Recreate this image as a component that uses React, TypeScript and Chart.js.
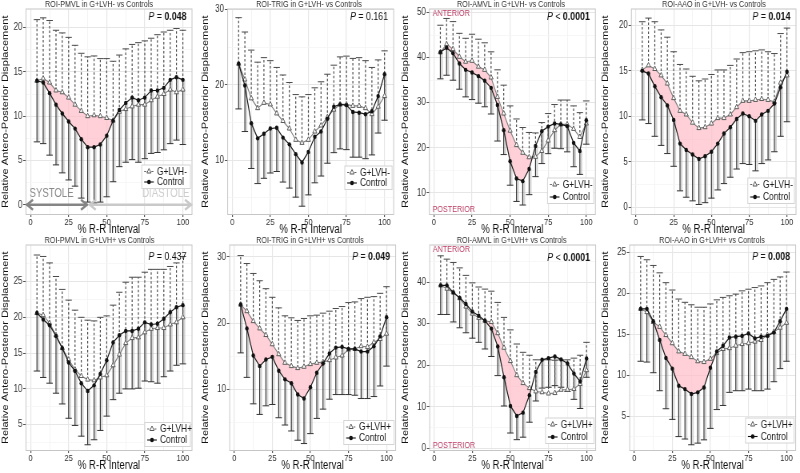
import React, { useEffect, useRef } from "react";
import { Chart, registerables } from "chart.js";

Chart.register(...registerables);

const FONT = "'Liberation Sans', Arial, Helvetica, sans-serif";
Chart.defaults.font.family = FONT;

// The reference figure is squeezed horizontally: draw wider, show at 200 px.
const CANVAS_W = 250;
const SHOW_W = 200;
const PLOT_W = 207.5;
const PLOT_TOP = 9;
const PLOT_BOTTOM = 214.5;
const PINK = "rgba(255, 190, 200, 0.72)";

// ---------- data ----------
const rrInterval = [4.2, 8.3, 12.5, 16.7, 20.8, 25, 29.2, 33.3, 37.5, 41.7, 45.8, 50, 54.2, 58.3, 62.5, 66.7, 70.8, 75, 79.2, 83.3, 87.5, 91.7, 95.8, 100];
const xTickLabels = [0, 25, 50, 75, 100];

// ROI-PMVL, G+LVH-
const pmvlNegG = [14.0, 14.25, 13.8, 12.9, 12.7, 12.1, 11.3, 10.6, 10.0, 10.1, 10.0, 9.8, 9.5, 10.5, 10.8, 11.1, 11.3, 11.3, 11.8, 12.2, 12.5, 13.0, 12.7, 13.0];
const pmvlNegGUp = [20.9, 21.1, 20.8, 19.7, 19.4, 18.9, 18.0, 17.1, 16.7, 16.8, 16.5, 16.5, 16.2, 16.9, 17.6, 18.1, 18.3, 18.5, 18.8, 19.2, 19.5, 19.7, 19.9, 19.7];
const pmvlNegC = [14.0, 13.8, 12.6, 11.3, 10.3, 9.4, 8.6, 7.4, 6.5, 6.5, 6.8, 7.8, 9.5, 10.7, 11.5, 12.1, 11.8, 12.1, 12.9, 12.9, 13.2, 14.1, 14.4, 14.1];
const pmvlNegCLow = [7.1, 6.9, 5.6, 4.5, 3.6, 2.8, 2.1, 0.75, 0.3, 0.2, 0.3, 0.9, 2.6, 4.3, 4.8, 5.1, 4.8, 5.2, 5.8, 5.9, 6.2, 6.9, 7.3, 6.8];
const yTicksPmvlNeg = [0, 5, 10, 15, 20];

// ROI-TRIG, G+LVH-
const trigNegG = [22.8, 20.7, 18.2, 16.9, 17.6, 17.4, 16.2, 15.2, 14.2, 12.7, 12.3, 12.7, 13.8, 14.6, 15.7, 16.7, 17.4, 17.4, 17.2, 17.2, 16.9, 16.1, 17.1, 18.5];
const trigNegGUp = [28.9, 27.0, 24.6, 23.0, 23.6, 23.2, 22.3, 21.3, 20.3, 18.7, 18.4, 18.7, 19.6, 20.4, 21.4, 22.6, 23.7, 23.8, 23.5, 23.6, 23.2, 22.3, 23.3, 24.5];
const trigNegC = [22.8, 19.9, 14.9, 12.9, 13.5, 14.2, 14.3, 13.0, 12.1, 10.8, 9.7, 11.1, 13.1, 13.8, 15.5, 17.1, 17.4, 17.3, 16.4, 16.3, 16.1, 16.5, 18.5, 21.4];
const trigNegCLow = [16.8, 13.8, 8.9, 6.9, 7.6, 8.3, 8.5, 7.1, 6.3, 5.1, 3.9, 5.4, 7.0, 7.9, 9.6, 11.0, 11.5, 11.4, 10.4, 10.4, 10.2, 10.7, 13.6, 15.3];
const yTicksTrigNeg = [10, 20, 30];

// ROI-AMVL, G+LVH-
const amvlNegG = [41.2, 43.0, 41.9, 40.2, 39.1, 39.3, 38.0, 37.3, 35.6, 31.3, 27.6, 23.8, 20.6, 18.9, 17.9, 18.0, 19.3, 21.6, 23.9, 25.2, 25.2, 24.2, 22.4, 25.4];
const amvlNegGUp = [47.2, 48.7, 48.0, 45.4, 44.3, 45.2, 44.1, 43.3, 41.3, 37.3, 33.9, 29.3, 26.4, 24.5, 23.4, 23.3, 25.6, 27.6, 29.6, 30.6, 30.6, 29.3, 27.8, 30.4];
const amvlNegC = [41.2, 42.2, 41.0, 38.7, 37.3, 36.7, 35.9, 34.9, 33.3, 29.5, 23.9, 17.0, 13.2, 12.6, 15.3, 20.4, 23.7, 24.7, 25.4, 25.2, 24.8, 21.1, 19.3, 26.1];
const amvlNegCLow = [35.3, 36.1, 35.0, 33.0, 31.3, 30.7, 29.9, 29.1, 27.5, 21.5, 18.5, 11.7, 8.1, 7.3, 9.6, 13.6, 16.5, 18.7, 19.9, 19.8, 19.1, 15.8, 14.1, 20.8];
const yTicksAmvlNeg = [10, 20, 30, 40, 50];

// ROI-AAO, G+LVH-
const aaoNegG = [15.1, 15.6, 15.2, 14.5, 13.6, 12.0, 10.6, 10.2, 9.3, 8.7, 8.8, 9.2, 9.8, 9.8, 10.2, 11.0, 11.7, 11.7, 11.8, 11.9, 11.8, 11.6, 13.7, 14.5];
const aaoNegGUp = [20.4, 20.8, 20.4, 19.5, 18.7, 17.1, 15.7, 15.2, 14.4, 13.9, 14.1, 14.6, 15.1, 15.1, 15.6, 16.3, 17.0, 17.1, 17.2, 17.3, 17.1, 16.9, 19.1, 19.7];
const aaoNegC = [15.0, 14.7, 13.3, 12.1, 11.2, 9.6, 7.0, 6.3, 5.8, 5.3, 5.6, 6.1, 7.0, 8.1, 8.8, 9.7, 10.3, 10.0, 9.5, 10.2, 10.6, 11.4, 13.2, 14.9];
const aaoNegCLow = [9.6, 9.2, 7.8, 6.8, 5.9, 4.5, 1.8, 1.1, 0.7, 0.3, 0.5, 1.0, 1.9, 2.6, 3.3, 4.2, 4.8, 4.7, 4.0, 4.8, 5.2, 6.1, 7.8, 9.4];
const yTicksAaoNeg = [0, 5, 10, 15, 20];

// ROI-PMVL, G+LVH+
const pmvlPosG = [20.6, 20.3, 19.2, 17.5, 15.7, 14.1, 12.7, 11.8, 11.3, 11.2, 11.6, 11.9, 13.3, 14.8, 16.4, 17.1, 17.2, 17.9, 18.4, 18.5, 18.5, 19.0, 19.3, 20.0];
const pmvlPosGUp = [28.7, 28.5, 27.6, 25.7, 23.9, 22.4, 21.0, 20.0, 19.6, 19.5, 20.0, 20.2, 21.7, 23.5, 24.9, 25.6, 25.6, 26.3, 26.7, 26.7, 26.7, 27.1, 27.6, 28.5];
const pmvlPosC = [20.6, 19.7, 18.9, 17.4, 15.7, 13.7, 12.5, 10.8, 9.7, 10.5, 12.1, 14.0, 16.5, 17.5, 18.1, 18.1, 18.4, 19.3, 19.0, 19.1, 19.8, 20.7, 21.4, 21.7];
const pmvlPosCLow = [12.5, 11.6, 10.8, 9.4, 7.9, 5.9, 4.9, 3.4, 2.2, 2.9, 4.2, 6.2, 8.5, 9.4, 10.0, 10.0, 10.1, 11.1, 11.0, 10.8, 11.7, 12.5, 13.3, 13.5];
const yTicksPmvlPos = [5, 10, 15, 20, 25];

// ROI-TRIG, G+LVH+
const trigPosG = [22.8, 21.8, 20.3, 19.2, 18.2, 16.8, 15.3, 14.0, 13.5, 13.2, 13.4, 13.8, 14.0, 14.1, 14.4, 14.8, 15.1, 16.0, 16.1, 16.5, 16.4, 17.1, 17.6, 18.4];
const trigPosGUp = [30.2, 29.0, 27.5, 26.4, 25.2, 23.9, 22.3, 21.1, 20.8, 20.4, 20.7, 21.1, 21.2, 21.5, 21.8, 22.2, 22.5, 23.1, 23.2, 23.7, 23.9, 24.0, 24.5, 25.5];
const trigPosC = [22.8, 19.2, 15.1, 13.5, 14.5, 14.9, 12.8, 11.5, 10.9, 9.2, 8.6, 10.3, 12.5, 13.9, 15.4, 16.3, 16.4, 16.1, 16.1, 15.7, 15.7, 16.5, 18.0, 20.9];
const trigPosCLow = [15.5, 11.8, 7.8, 6.2, 7.5, 7.7, 5.7, 4.6, 3.7, 2.3, 1.8, 3.3, 5.6, 7.0, 8.5, 9.2, 9.2, 9.2, 9.1, 8.6, 8.6, 8.9, 10.5, 13.5];
const yTicksTrigPos = [10, 20, 30];

// ROI-AMVL, G+LVH+
const amvlPosG = [39.2, 38.4, 37.5, 36.1, 34.1, 32.4, 31.4, 30.7, 30.4, 27.7, 24.2, 21.0, 17.6, 15.7, 14.5, 13.7, 13.5, 13.2, 13.3, 14.1, 14.1, 14.3, 15.5, 18.8];
const amvlPosGUp = [46.3, 45.5, 44.7, 43.4, 41.6, 39.8, 38.8, 38.3, 37.8, 35.1, 31.5, 28.5, 25.1, 23.1, 22.4, 21.3, 21.3, 21.3, 21.2, 21.3, 21.3, 21.7, 22.4, 25.5];
const amvlPosC = [39.2, 39.2, 37.5, 36.2, 34.7, 32.9, 31.9, 30.7, 28.8, 24.5, 17.1, 10.2, 7.8, 8.6, 12.8, 18.4, 21.3, 21.7, 22.1, 21.4, 20.4, 18.0, 16.1, 21.6];
const amvlPosCLow = [32.2, 32.2, 30.4, 29.0, 27.8, 26.5, 25.5, 23.9, 22.1, 17.5, 10.2, 3.7, 2.1, 2.7, 6.3, 11.4, 14.5, 14.7, 15.1, 14.7, 13.7, 11.8, 9.6, 17.1];
const yTicksAmvlPos = [0, 10, 20, 30, 40];

// ROI-AAO, G+LVH+
const aaoPosG = [18.1, 17.7, 16.5, 15.9, 14.9, 13.9, 12.9, 12.6, 12.2, 11.7, 11.6, 12.0, 12.7, 13.2, 13.3, 13.6, 13.8, 13.9, 14.1, 14.3, 14.9, 15.3, 15.8, 16.4];
const aaoPosGUp = [24.5, 24.1, 23.4, 22.5, 21.3, 20.4, 19.3, 18.9, 18.6, 18.3, 18.3, 18.7, 19.2, 19.5, 19.7, 19.9, 20.3, 20.5, 20.7, 20.9, 21.3, 21.7, 22.0, 22.6];
const aaoPosC = [18.1, 18.1, 16.6, 14.3, 12.1, 10.8, 8.7, 8.3, 7.7, 7.9, 8.5, 10.9, 12.9, 13.6, 14.6, 14.7, 14.8, 15.1, 14.5, 14.7, 14.8, 15.2, 16.6, 18.1];
const aaoPosCLow = [11.7, 11.6, 10.3, 8.1, 5.9, 4.6, 2.5, 2.2, 1.5, 1.7, 2.1, 3.5, 5.8, 6.3, 7.9, 8.1, 8.1, 8.3, 8.1, 8.1, 8.3, 9.2, 10.8, 11.7];
const yTicksAaoPos = [5, 10, 15, 20, 25];

// Cardiac-phase annotation (panel 1), in data units
const systoleSpan = [-2.6, 37.3];
const diastoleSpan = [38.6, 105.6];
const systoleLabelAt = [13.8, 1.2];
const diastoleLabelAt = [88.8, 1.2];

type Panel = {
  title: string; group: string;
  g: number[]; gUp: number[]; c: number[]; cLow: number[];
  yMin: number; yMax: number; yTicks: number[];
  pOp: string; pVal: string; pBold: boolean;
  sig: number[] | null;
  phases?: boolean; orient?: boolean;
  left: number; titleX: number; legendX: number; legendY: number; legendGap: number; pY: number;
};

const panels: Panel[] = [
  { title: "ROI-PMVL in G+LVH- vs Controls", group: "G+LVH-", g: pmvlNegG, gUp: pmvlNegGUp, c: pmvlNegC, cLow: pmvlNegCLow,
    yMin: -1.1, yMax: 22.1, yTicks: yTicksPmvlNeg, pOp: "=", pVal: "0.048", pBold: true, sig: [1, 12], phases: true,
    left: 32.5, titleX: 123.75, legendX: 196.25, legendY: 171.5, legendGap: 10.5, pY: 16.7 },
  { title: "ROI-TRIG in G+LVH- vs Controls", group: "G+LVH-", g: trigNegG, gUp: trigNegGUp, c: trigNegC, cLow: trigNegCLow,
    yMin: 2.8, yMax: 30.05, yTicks: yTicksTrigNeg, pOp: "=", pVal: "0.161", pBold: false, sig: null,
    left: 34.6, titleX: 136.25, legendX: 200, legendY: 172.5, legendGap: 10.5, pY: 17.3 },
  { title: "ROI-AMVL in G+LVH- vs Controls", group: "G+LVH-", g: amvlNegG, gUp: amvlNegGUp, c: amvlNegC, cLow: amvlNegCLow,
    yMin: 5.2, yMax: 50.8, yTicks: yTicksAmvlNeg, pOp: "<", pVal: "0.0001", pBold: true, sig: [0, 15], orient: true,
    left: 36.75, titleX: 138.75, legendX: 203.4, legendY: 184.5, legendGap: 12.5, pY: 16.7 },
  { title: "ROI-AAO in G+LVH- vs Controls", group: "G+LVH-", g: aaoNegG, gUp: aaoNegGUp, c: aaoNegC, cLow: aaoNegCLow,
    yMin: -0.8, yMax: 21.8, yTicks: yTicksAaoNeg, pOp: "=", pVal: "0.014", pBold: true, sig: [0, 23],
    left: 39.25, titleX: 142.5, legendX: 203.75, legendY: 184.5, legendGap: 12.5, pY: 17.3 },
  { title: "ROI-PMVL in G+LVH+ vs Controls", group: "G+LVH+", g: pmvlPosG, gUp: pmvlPosGUp, c: pmvlPosC, cLow: pmvlPosCLow,
    yMin: 1.4, yMax: 30.1, yTicks: yTicksPmvlPos, pOp: "=", pVal: "0.437", pBold: false, sig: null,
    left: 32.5, titleX: 124.4, legendX: 200, legendY: 193, legendGap: 11, pY: 20.7 },
  { title: "ROI-TRIG in G+LVH+ vs Controls", group: "G+LVH+", g: trigPosG, gUp: trigPosGUp, c: trigPosC, cLow: trigPosCLow,
    yMin: 0.75, yMax: 31.8, yTicks: yTicksTrigPos, pOp: "=", pVal: "0.049", pBold: true, sig: [0, 13],
    left: 37.1, titleX: 137.5, legendX: 198.75, legendY: 191, legendGap: 11, pY: 20.7 },
  { title: "ROI-AMVL in G+LVH+ vs Controls", group: "G+LVH+", g: amvlPosG, gUp: amvlPosGUp, c: amvlPosC, cLow: amvlPosCLow,
    yMin: -0.5, yMax: 48.9, yTicks: yTicksAmvlPos, pOp: "<", pVal: "0.0001", pBold: true, sig: [7, 15], orient: true,
    left: 37.1, titleX: 139.6, legendX: 200.9, legendY: 188.5, legendGap: 12.5, pY: 21.7 },
  { title: "ROI-AAO in G+LVH+ vs Controls", group: "G+LVH+", g: aaoPosG, gUp: aaoPosGUp, c: aaoPosC, cLow: aaoPosCLow,
    yMin: 0.8, yMax: 25.9, yTicks: yTicksAaoPos, pOp: "=", pVal: "0.008", pBold: true, sig: [0, 13],
    left: 37.1, titleX: 140, legendX: 200.9, legendY: 188.5, legendGap: 12, pY: 20.7 },
];

function withMinor(major: number[], min: number, max: number) {
  const step = major[1] - major[0];
  const all: number[] = [major[0] - step / 2];
  major.forEach((v) => {
    all.push(v);
    all.push(v + step / 2);
  });
  return all.filter((v) => v >= min - 1e-9 && v <= max + 1e-9);
}

function seg(ctx: CanvasRenderingContext2D, x0: number, y0: number, x1: number, y1: number) {
  ctx.beginPath();
  ctx.moveTo(x0, y0);
  ctx.lineTo(x1, y1);
  ctx.stroke();
}

function triangle(ctx: CanvasRenderingContext2D, x: number, y: number, r: number) {
  ctx.beginPath();
  ctx.moveTo(x, y - r);
  ctx.lineTo(x + r * 0.866, y + r * 0.5);
  ctx.lineTo(x - r * 0.866, y + r * 0.5);
  ctx.closePath();
}

function doubleArrow(ctx: CanvasRenderingContext2D, x0: number, x1: number, y: number, color: string) {
  ctx.strokeStyle = color;
  ctx.lineWidth = 2.6;
  ctx.lineCap = "butt";
  seg(ctx, x0, y, x1, y);
  ctx.beginPath();
  ctx.moveTo(x0 + 8, y - 5);
  ctx.lineTo(x0 + 0.5, y);
  ctx.lineTo(x0 + 8, y + 5);
  ctx.stroke();
  ctx.beginPath();
  ctx.moveTo(x1 - 8, y - 5);
  ctx.lineTo(x1 - 0.5, y);
  ctx.lineTo(x1 - 8, y + 5);
  ctx.stroke();
}

function decorPlugin(p: Panel) {
  return {
    id: "panelDecor",
    beforeDatasetsDraw(chart: any) {
      const { ctx, chartArea: a, scales } = chart;
      const x = scales.x, y = scales.y;
      ctx.save();
      ctx.beginPath();
      ctx.rect(a.left, a.top, a.right - a.left, a.bottom - a.top);
      ctx.clip();
      rrInterval.forEach((xv, i) => {
        const px = x.getPixelForValue(xv);
        // Control: solid, downward
        const yc = y.getPixelForValue(p.c[i]);
        const yl = y.getPixelForValue(p.cLow[i]);
        ctx.setLineDash([]);
        ctx.strokeStyle = "rgba(175,175,175,0.55)";
        ctx.lineWidth = 2;
        seg(ctx, px + 2, yc, px + 2, yl);
        ctx.strokeStyle = "#333";
        ctx.lineWidth = 1.2;
        seg(ctx, px, yc, px, yl);
        ctx.lineWidth = 1;
        seg(ctx, px - 4, yl, px + 4, yl);
        // G+LVH: dashed, upward
        const yg = y.getPixelForValue(p.g[i]);
        const yu = y.getPixelForValue(p.gUp[i]);
        ctx.strokeStyle = "#4a4a4a";
        ctx.lineWidth = 1.2;
        ctx.setLineDash([2.5, 2]);
        seg(ctx, px, yg, px, yu);
        ctx.setLineDash([]);
        ctx.lineWidth = 1;
        seg(ctx, px - 4, yu, px + 4, yu);
      });
      ctx.restore();
    },
    afterDatasetsDraw(chart: any) {
      const { ctx, chartArea: a, scales } = chart;
      const x = scales.x, y = scales.y;
      ctx.save();
      // panel border
      ctx.strokeStyle = "#c6c6c6";
      ctx.lineWidth = 1;
      ctx.strokeRect(a.left, a.top, a.right - a.left, a.bottom - a.top);

      if (p.phases) {
        const y0 = y.getPixelForValue(0);
        doubleArrow(ctx, x.getPixelForValue(systoleSpan[0]), x.getPixelForValue(systoleSpan[1]), y0, "#858585");
        doubleArrow(ctx, x.getPixelForValue(diastoleSpan[0]), x.getPixelForValue(diastoleSpan[1]), y0, "#c9c9c9");
        ctx.font = `12px ${FONT}`;
        ctx.textAlign = "center";
        ctx.textBaseline = "middle";
        ctx.fillStyle = "#8a8a8a";
        ctx.fillText("SYSTOLE", x.getPixelForValue(systoleLabelAt[0]), y.getPixelForValue(systoleLabelAt[1]));
        ctx.fillStyle = "#cdcdcd";
        ctx.fillText("DIASTOLE", x.getPixelForValue(diastoleLabelAt[0]), y.getPixelForValue(diastoleLabelAt[1]));
      }

      if (p.orient) {
        ctx.font = `9px ${FONT}`;
        ctx.textAlign = "left";
        ctx.textBaseline = "middle";
        ctx.fillStyle = "#bb3d65";
        ctx.fillText("ANTERIOR", a.left + 4, a.top + 4.5);
        ctx.fillText("POSTERIOR", a.left + 4, a.bottom - 5);
      }

      // legend
      const lx = p.legendX, ly = p.legendY, gap = p.legendGap;
      const bl = lx - 19, br = a.right - 2, bt = ly - 6.5, bb = ly + gap + 6.5;
      ctx.fillStyle = "#ffffff";
      ctx.fillRect(bl, bt, br - bl, bb - bt);
      ctx.strokeStyle = "#d4d4d4";
      ctx.lineWidth = 1;
      ctx.strokeRect(bl, bt, br - bl, bb - bt);
      ctx.strokeStyle = "#666";
      ctx.lineWidth = 1.1;
      ctx.setLineDash([2.5, 2]);
      seg(ctx, lx - 16, ly, lx - 4, ly);
      ctx.setLineDash([]);
      triangle(ctx, lx - 10, ly, 3);
      ctx.fillStyle = "#fff";
      ctx.fill();
      ctx.strokeStyle = "#555";
      ctx.lineWidth = 1;
      ctx.stroke();
      ctx.strokeStyle = "#111";
      ctx.lineWidth = 1.1;
      seg(ctx, lx - 16, ly + gap, lx - 4, ly + gap);
      ctx.beginPath();
      ctx.arc(lx - 10, ly + gap, 2.3, 0, Math.PI * 2);
      ctx.fillStyle = "#111";
      ctx.fill();
      ctx.font = `10.5px ${FONT}`;
      ctx.textAlign = "left";
      ctx.textBaseline = "middle";
      ctx.fillStyle = "#1a1a1a";
      ctx.fillText(p.group, lx, ly + 0.5);
      ctx.fillText("Control", lx, ly + gap + 0.5);

      // P value
      const parts = [
        { t: "P", f: `italic 11px ${FONT}` },
        { t: ` ${p.pOp} `, f: `11px ${FONT}` },
        { t: p.pVal, f: `${p.pBold ? "bold " : ""}11px ${FONT}` },
      ];
      let total = 0;
      const widths = parts.map((pt) => {
        ctx.font = pt.f;
        const w = ctx.measureText(pt.t).width;
        total += w;
        return w;
      });
      let cx = a.right - 7 - total;
      ctx.fillStyle = "#111";
      ctx.textAlign = "left";
      ctx.textBaseline = "middle";
      parts.forEach((pt, i) => {
        ctx.font = pt.f;
        ctx.fillText(pt.t, cx, p.pY);
        cx += widths[i];
      });

      // title
      ctx.font = `9px ${FONT}`;
      ctx.textAlign = "center";
      ctx.textBaseline = "middle";
      ctx.fillStyle = "#333";
      ctx.fillText(p.title, p.titleX, 4.6);
      ctx.restore();
    },
  };
}

function buildConfig(p: Panel, h: number, bottomRow: boolean): any {
  const pts = (vals: number[]) => rrInterval.map((xv, i) => ({ x: xv, y: vals[i] }));
  const slicePts = (vals: number[], r: number[]) =>
    rrInterval.slice(r[0], r[1] + 1).map((xv, i) => ({ x: xv, y: vals[r[0] + i] }));

  const datasets: any[] = [
    {
      label: "Control", data: pts(p.c), borderColor: "#1a1a1a", borderWidth: 1.2,
      pointStyle: "circle", pointRadius: 2.2, pointBackgroundColor: "#111", pointBorderColor: "#111",
      pointBorderWidth: 0, fill: false, tension: 0,
    },
    {
      label: p.group, data: pts(p.g), borderColor: "#7d7d7d", borderWidth: 1.1,
      pointStyle: "triangle", pointRadius: 3, pointBackgroundColor: "#fff", pointBorderColor: "#5a5a5a",
      pointBorderWidth: 1, fill: false, tension: 0,
    },
  ];
  if (p.sig) {
    datasets.push({
      label: "sigTop", data: slicePts(p.g, p.sig), borderColor: "rgba(0,0,0,0)", borderWidth: 0,
      pointRadius: 0, fill: { target: 3, above: PINK, below: "rgba(0,0,0,0)" },
    });
    datasets.push({
      label: "sigBottom", data: slicePts(p.c, p.sig), borderColor: "rgba(0,0,0,0)", borderWidth: 0,
      pointRadius: 0, fill: false,
    });
  }

  const xMin = -3, xMax = 106;
  const xAll = withMinor(xTickLabels, xMin, xMax);
  const yAll = withMinor(p.yTicks, p.yMin, p.yMax);
  const isMajorX = (v: number) => xTickLabels.includes(v);
  const isMajorY = (v: number) => p.yTicks.includes(v);

  return {
    type: "line",
    data: { datasets },
    options: {
      responsive: false,
      animation: false,
      devicePixelRatio: 1,
      events: [],
      layout: { padding: { top: PLOT_TOP, left: 0, bottom: 0, right: CANVAS_W - p.left - PLOT_W } },
      plugins: {
        legend: { display: false },
        title: { display: false },
        tooltip: { enabled: false },
        filler: { drawTime: "beforeDatasetsDraw" },
      },
      scales: {
        x: {
          type: "linear", min: xMin, max: xMax,
          afterBuildTicks: (s: any) => { s.ticks = xAll.map((v) => ({ value: v })); },
          afterFit: (s: any) => { s.height = h - PLOT_BOTTOM; s.paddingLeft = 0; s.paddingRight = 0; },
          ticks: {
            autoSkip: false, maxRotation: 0, padding: 0.5, color: "#333",
            font: { size: 9.5, lineHeight: 1 },
            callback: (v: number) => (isMajorX(v) ? String(v) : ""),
          },
          grid: {
            color: (c: any) => (c.tick && isMajorX(c.tick.value) ? "#e6e6e6" : "#f3f3f3"),
            lineWidth: (c: any) => (c.tick && isMajorX(c.tick.value) ? 1.2 : 0.9),
            tickColor: (c: any) => (c.tick && isMajorX(c.tick.value) ? "#555" : "rgba(0,0,0,0)"),
            tickLength: 2.5,
            drawTicks: true,
          },
          border: { display: false },
          title: {
            display: true, text: "% R-R Interval", color: "#111",
            font: { size: 12, lineHeight: 1 }, padding: { top: 0, bottom: bottomRow ? 1 : 0.5 },
          },
        },
        y: {
          type: "linear", min: p.yMin, max: p.yMax,
          afterBuildTicks: (s: any) => { s.ticks = yAll.map((v) => ({ value: v })); },
          afterFit: (s: any) => { s.width = p.left; s.paddingTop = 0; s.paddingBottom = 0; },
          ticks: {
            padding: 1, color: "#333", font: { size: 10, lineHeight: 1 },
            callback: (v: number) => (isMajorY(v) ? String(v) : ""),
          },
          grid: {
            color: (c: any) => (c.tick && isMajorY(c.tick.value) ? "#e6e6e6" : "#f3f3f3"),
            lineWidth: (c: any) => (c.tick && isMajorY(c.tick.value) ? 1 : 0.7),
            tickColor: (c: any) => (c.tick && isMajorY(c.tick.value) ? "#555" : "rgba(0,0,0,0)"),
            tickLength: 3.5,
            drawTicks: true,
          },
          border: { display: false },
          title: {
            display: true, text: "Relative Antero-Posterior Displacement", color: "#111",
            font: { size: 11, lineHeight: 1.2 }, padding: { top: 0.5, bottom: 0 },
          },
        },
      },
    },
    plugins: [decorPlugin(p)],
  };
}

function PanelChart({ panel, index }: { panel: Panel; index: number }) {
  const ref = useRef<HTMLCanvasElement>(null);
  const row = Math.floor(index / 4);
  const col = index % 4;
  const h = row === 0 ? 236 : 237;
  useEffect(() => {
    const canvas = ref.current;
    if (!canvas) return;
    const chart = new Chart(canvas, buildConfig(panel, h, row === 1));
    return () => chart.destroy();
  }, [panel, h, row]);
  return (
    <canvas
      ref={ref}
      width={CANVAS_W}
      height={h}
      style={{ position: "absolute", left: col * SHOW_W, top: row * 236, width: SHOW_W, height: h, display: "block" }}
    />
  );
}

export default function App() {
  return (
    <div style={{ position: "fixed", left: 0, top: 0, width: 800, height: 473, background: "#fff", overflow: "hidden" }}>
      {panels.map((p, i) => (
        <PanelChart key={p.title} panel={p} index={i} />
      ))}
    </div>
  );
}
